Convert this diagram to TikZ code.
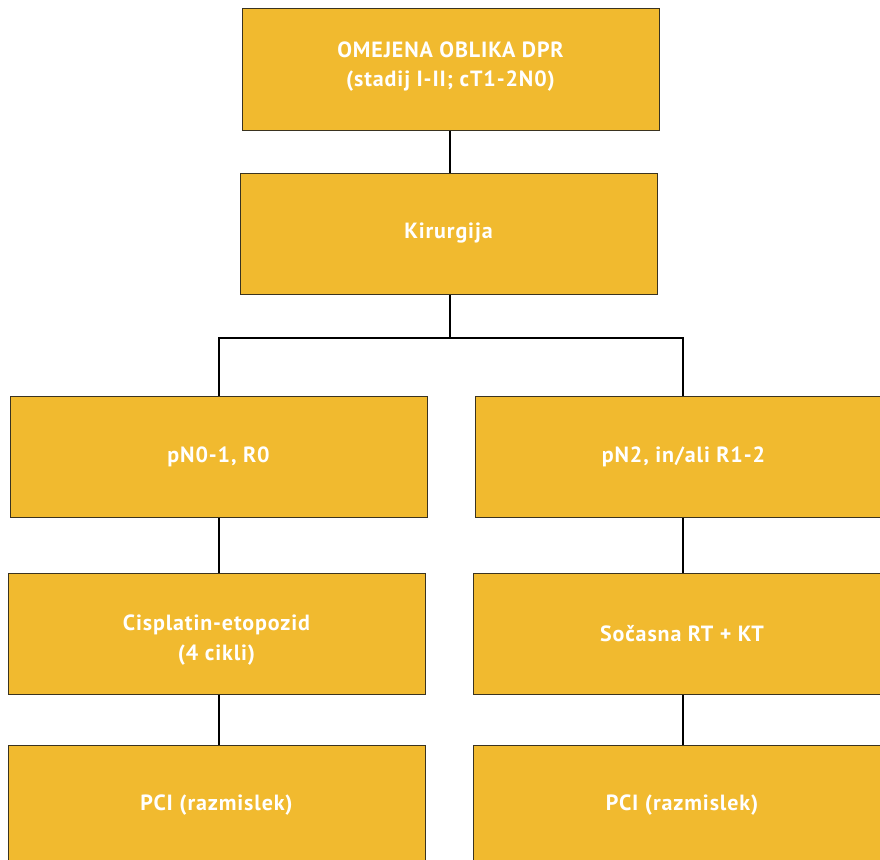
\documentclass[tikz,border=0pt]{standalone}
\usepackage{fontspec}
\setmainfont{PT Sans}[LetterSpace=4]
\definecolor{boxfill}{HTML}{F1BA2F}
\definecolor{boxedge}{HTML}{3A3320}
\newcommand{\twolines}[4]{\raisebox{#1}[0pt][0pt]{\fontsize{22}{#2}\selectfont\begin{tabular}{@{}c@{}}#3\\#4\end{tabular}}}
\tikzset{
  box/.style={draw=boxedge, line width=1pt, fill=boxfill, rectangle,
    minimum width=417pt, minimum height=121pt, inner sep=0pt,
    text=white, align=center,
    font=\fontsize{22}{31}\selectfont\bfseries},
  link/.style={draw=black, line width=2pt}
}
\begin{document}
\begin{tikzpicture}[x=1pt,y=-1pt]
\useasboundingbox (0,0) rectangle (880,859);
\clip (0,0) rectangle (880,859);
\node[box] (top) at (450.5,69.5) {\twolines{-2pt}{29}{OMEJENA OBLIKA DPR}{(stadij I-II; cT1-2N0)}};
\node[box] (kir) at (448.5,233.5) {Kirurgija};
\node[box] (pn01) at (218.5,456.5) {pN0-1, R0};
\node[box] (pn2) at (683.5,456.5) {pN2, in/ali R1-2};
\node[box] (cis) at (216.5,633.5) {\twolines{-11pt}{30}{Cisplatin-etopozid}{(4 cikli)}};
\node[box] (soc) at (682,633.5) {Sočasna RT + KT};
\node[box] (pcil) at (216.5,805.5) {PCI (razmislek)};
\node[box] (pcir) at (682,805.5) {PCI (razmislek)};
\coordinate (split) at (450,338);
\coordinate (lx) at (219,0);
\coordinate (rx) at (683,0);
\draw[link] (top.south -| split) -- (kir.north -| split);
\draw[link] (kir.south -| split) -- (split);
\draw[link] (pn01.north -| lx) |- (split) -| (pn2.north -| rx);
\draw[link] (pn01.south -| lx) -- (cis.north -| lx);
\draw[link] (pn2.south -| rx) -- (soc.north -| rx);
\draw[link] (cis.south -| lx) -- (pcil.north -| lx);
\draw[link] (soc.south -| rx) -- (pcir.north -| rx);
\end{tikzpicture}
\end{document}
